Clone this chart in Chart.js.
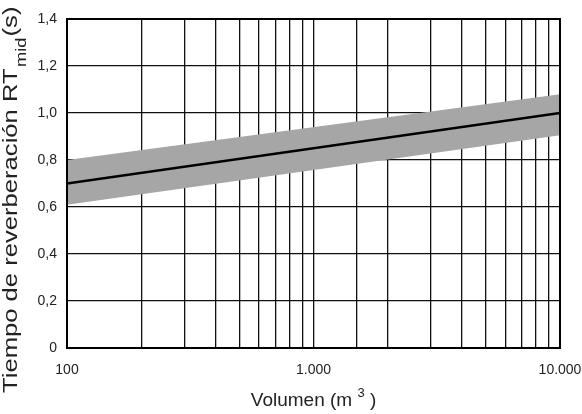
<!DOCTYPE html>
<html>
<head>
<meta charset="utf-8">
<script src="https://cdn.jsdelivr.net/npm/chart.js@4/dist/chart.umd.min.js"></script>
<style>
  html, body { margin: 0; padding: 0; background: #fff; }
  #wrap { width: 582px; height: 414px; }
</style>
</head>
<body>
<div id="wrap"><canvas id="rtChart" width="582" height="414"></canvas></div>
<script>
// Values
const volumes = [100, 10000];          // m3
const rtMid = [0.7, 1.0];              // s, centre line
const rtUpper = [0.8, 1.08];           // upper limit of the grey band
const rtLower = [0.61, 0.905];         // lower limit of the grey band
const xLabelValues = [100, 1000, 10000];
const yMin = 0, yMax = 1.4, yStep = 0.2;

const pts = arr => volumes.map((v, i) => ({ x: v, y: arr[i] }));
const thousands = v => String(v).replace(/\B(?=(\d{3})+(?!\d))/g, '.');

const FONT = "'Liberation Sans', Arial, sans-serif";
const TXT = '#222';

// axis titles with sub/superscripts, plus the frame
const extras = {
  id: 'extras',
  afterDraw(chart) {
    const { ctx, chartArea: a } = chart;
    ctx.save();
    ctx.strokeStyle = '#000';
    ctx.lineWidth = 2;
    ctx.strokeRect(a.left, a.top, a.right - a.left, a.bottom - a.top);

    // x title: Volumen (m 3 )
    ctx.fillStyle = TXT;
    ctx.textBaseline = 'alphabetic';
    ctx.textAlign = 'left';
    const big = '19px ' + FONT, sup = '13px ' + FONT;
    const p1 = 'Volumen (m ', p2 = '3', p3 = ' )';
    ctx.font = big; const w1 = ctx.measureText(p1).width, w3 = ctx.measureText(p3).width;
    ctx.font = sup; const w2 = ctx.measureText(p2).width;
    let x = (a.left + a.right) / 2 - (w1 + w2 + w3) / 2;
    const by = 406;
    ctx.font = big; ctx.fillText(p1, x, by); x += w1;
    ctx.font = sup; ctx.fillText(p2, x, by - 9); x += w2;
    ctx.font = big; ctx.fillText(p3, x, by);

    // y title: Tiempo de reverberación RTmid(s), a bit stretched along the text
    ctx.translate(17, 393);
    ctx.rotate(-Math.PI / 2);
    ctx.scale(1.22, 1);
    const t1 = 'Tiempo de reverberación RT', t2 = 'mid', t3 = '(s)';
    const f1 = '21px ' + FONT, f2 = '15px ' + FONT;
    let tx = 0;
    ctx.font = f1; ctx.fillText(t1, tx, 0); tx += ctx.measureText(t1).width + 1;
    ctx.font = f2; ctx.fillText(t2, tx, 9); tx += ctx.measureText(t2).width + 1;
    ctx.font = f1; ctx.fillText(t3, tx, 0);
    ctx.restore();
  }
};

const config = {
  type: 'line',
  data: {
    datasets: [
      {
        label: 'upper',
        data: pts(rtUpper),
        borderWidth: 0,
        borderColor: 'rgba(0,0,0,0)',
        backgroundColor: '#a6a6a6',
        pointRadius: 0,
        fill: '+1',
        order: 3
      },
      {
        label: 'lower',
        data: pts(rtLower),
        borderWidth: 0,
        borderColor: 'rgba(0,0,0,0)',
        pointRadius: 0,
        fill: false,
        order: 2
      },
      {
        label: 'RTmid',
        data: pts(rtMid),
        borderColor: '#000',
        borderWidth: 2.5,
        pointRadius: 0,
        fill: false,
        order: 1
      }
    ]
  },
  options: {
    responsive: false,
    animation: false,
    devicePixelRatio: 1,
    layout: { padding: { top: 19, right: 22, left: 0, bottom: 0 } },
    plugins: {
      legend: { display: false },
      tooltip: { enabled: false }
    },
    scales: {
      x: {
        type: 'logarithmic',
        min: volumes[0],
        max: volumes[volumes.length - 1],
        z: 1,
        border: { display: false },
        grid: { color: '#111', lineWidth: 1.3, drawTicks: false },
        ticks: {
          autoSkip: false,
          maxRotation: 0,
          padding: 14,
          color: TXT,
          font: { family: FONT, size: 14 },
          callback: v => xLabelValues.includes(v) ? thousands(v) : ''
        },
        afterFit: s => { s.height = 66; s.paddingLeft = 0; s.paddingRight = 0; }
      },
      y: {
        min: yMin,
        max: yMax,
        z: 1,
        border: { display: false },
        grid: { color: '#111', lineWidth: 1.3, drawTicks: false },
        ticks: {
          stepSize: yStep,
          padding: 10,
          color: TXT,
          font: { family: FONT, size: 14 },
          callback: v => v === 0 ? '0' : v.toFixed(1).replace('.', ',')
        },
        afterFit: s => { s.width = 67; s.paddingTop = 0; s.paddingBottom = 0; }
      }
    }
  },
  plugins: [extras]
};

const ctx = document.getElementById('rtChart').getContext('2d');
new Chart(ctx, config);
</script>
</body>
</html>
